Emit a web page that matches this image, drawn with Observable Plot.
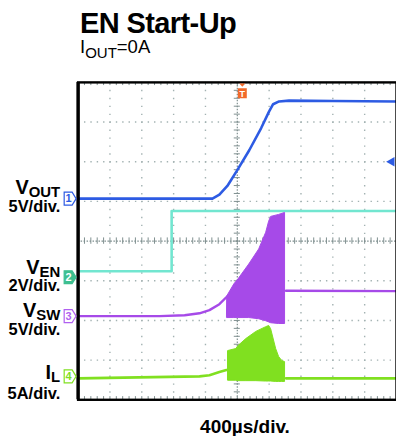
<!DOCTYPE html>
<html>
<head>
<meta charset="utf-8">
<script src="https://cdn.jsdelivr.net/npm/d3@7"></script>
<script src="https://cdn.jsdelivr.net/npm/@observablehq/plot@0.6"></script>
<style>
  html, body { margin: 0; padding: 0; background: #fff; }
  #wrap { position: relative; width: 396px; height: 436px; overflow: hidden; font-family: "Liberation Sans", Arial, sans-serif; color: #000; }
  #title { position: absolute; left: 80px; top: 8.5px; font-size: 29px; line-height: 29px; font-weight: bold; letter-spacing: -0.6px; white-space: nowrap; }
  #subtitle { position: absolute; left: 80px; top: 38px; font-size: 18.5px; line-height: 18px; white-space: nowrap; }
  #subtitle span { font-size: 15px; position: relative; top: 5px; }
  #chart { position: absolute; left: 0; top: 62px; }
  #caption { position: absolute; left: 145px; width: 200px; top: 416.5px; text-align: center; font-size: 19px; line-height: 19px; font-weight: bold; white-space: nowrap; }
</style>
</head>
<body>
<div id="wrap">
  <div id="title">EN Start-Up</div>
  <div id="subtitle">I<span>OUT</span>=0A</div>
  <div id="chart"></div>
  <div id="caption">400µs/div.</div>
</div>
<script>
// ---- Data (time in µs, 400 µs/div; level in screen divisions, 0..8) ----
const voutT = [0, 1688, 1775, 1875, 2000, 2150, 2300, 2400, 2450, 2525, 2650, 3200, 4000];
const voutV = [5.07, 5.07, 5.17, 5.39, 5.79, 6.29, 6.85, 7.27, 7.45, 7.52, 7.54, 7.53, 7.52];

const venT = [0, 1175, 1175, 4000];
const venV = [3.24, 3.24, 4.76, 4.76];

const vswT = [0, 1025, 1338, 1525, 1650, 1775, 1875];
const vswV = [2.11, 2.11, 2.13, 2.18, 2.26, 2.41, 2.61];
const vswBurstT  = [1875, 1963, 2013, 2150, 2275, 2363, 2400, 2425, 2525, 2600];
const vswBurstHi = [2.61, 2.91, 3.03, 3.41, 3.79, 4.21, 4.49, 4.61, 4.66, 4.71];
const vswBurstLo = [2.06, 2.06, 2.06, 2.06, 2.03, 1.98, 1.95, 1.93, 1.91, 1.91];
const vswPostT = [2612, 4000];
const vswPostV = [2.75, 2.74];

const ilT = [0, 1525, 1650, 1775, 1863, 1888];
const ilV = [0.54, 0.59, 0.62, 0.70, 0.75, 0.75];
const ilBurstT  = [1888, 1988, 2013, 2113, 2238, 2363, 2400, 2425, 2488, 2525, 2563, 2600];
const ilBurstHi = [1.23, 1.28, 1.35, 1.53, 1.71, 1.83, 1.86, 1.78, 1.28, 1.08, 0.98, 0.95];
const ilBurstLo = [0.48, 0.48, 0.47, 0.47, 0.47, 0.46, 0.46, 0.46, 0.45, 0.45, 0.45, 0.45];
const ilPostT = [2612, 4000];
const ilPostV = [0.54, 0.54];

const chanNums   = ["1", "2", "3", "4"];
const chanLevels = [5.07, 3.24, 2.11, 0.54];
const chanNames  = ["V_OUT", "V_EN", "V_SW", "I_L"];
const chanScales = ["5V/div.", "2V/div.", "5V/div.", "5A/div."];

const triggerT = [2063];
const levelMarkT = [3940];
const levelMarkV = [6];

// ---- Styles ----
const BLUE = "#2d5be3", CYAN = "#72e6d0", PURPLE = "#a64ae8", GREEN = "#80e020", ORANGE = "#f26a2a";
const chanStroke = [BLUE, "#3dbf90", "#b060f0", GREEN];
const chanFill = ["#ffffff", "#3dbf90", "#ffffff", "#ffffff"];
const chanText = [BLUE, "#ffffff", "#b060f0", GREEN];
const markerDy = [0, 6, 0, -2];
const nameDy = [-5, 3, 1, 1];
const scaleDy = [13, 20, 19, 21];

const zip = (t, v) => t.map((d, i) => ({t: d, v: v[i]}));
const zip3 = (t, lo, hi) => t.map((d, i) => ({t: d, lo: lo[i], hi: hi[i]}));
const chans = chanNums.map((n, i) => ({n, level: chanLevels[i], name: chanNames[i], scale: chanScales[i],
  stroke: chanStroke[i], fill: chanFill[i], text: chanText[i]}));

// grid positions (scale divisions)
const majorX = d3.range(1, 10).filter(i => i !== 5).map(i => i * 400);
const majorY = d3.range(1, 8).filter(i => i !== 4);
const minorX = d3.range(1, 50).map(i => i * 80);
const minorY = d3.range(1, 40).map(i => i * 0.2);

const flag = {draw(ctx) { ctx.moveTo(-6, -6.5); ctx.lineTo(2, -6.5); ctx.lineTo(6, 0); ctx.lineTo(2, 6.5); ctx.lineTo(-6, 6.5); ctx.closePath(); }};
const trig = {draw(ctx) { ctx.moveTo(-3, 1); ctx.lineTo(3, 1); ctx.lineTo(0, 4.5); ctx.closePath();
  ctx.moveTo(-4.5, 6); ctx.lineTo(4.5, 6); ctx.lineTo(4.5, 16); ctx.lineTo(-4.5, 16); ctx.closePath(); }};

const GRID = "#a3b2b2", CENTER = "#7f8f8f";

const labelMarks = chans.flatMap((c, i) => [
  Plot.dot([c], {x: 0, y: "level", dx: -8, dy: markerDy[i], symbol: flag, fill: "fill", stroke: "stroke", strokeWidth: 1.2}),
  Plot.text([c], {x: 0, y: "level", dx: -9.5, dy: markerDy[i], text: "n", fill: "text", fontSize: 11, fontWeight: "bold"}),
  Plot.text([c], {x: 0, y: "level", dx: -18, dy: nameDy[i], text: "name", textAnchor: "end", lineAnchor: "bottom", fontSize: 20, fontWeight: "bold", fill: "#000"}),
  Plot.text([c], {x: 0, y: "level", dx: -18, dy: scaleDy[i], text: "scale", textAnchor: "end", lineAnchor: "bottom", fontSize: 16.5, fontWeight: "bold", fill: "#000"})
]);

const plot = Plot.plot({
  width: 398, height: 347,
  marginLeft: 78, marginRight: 0, marginTop: 20, marginBottom: 8,
  x: {domain: [0, 4000], axis: null},
  y: {domain: [0, 8], axis: null},
  color: {type: "identity"},
  style: {fontFamily: "'Liberation Sans', Arial, sans-serif", overflow: "visible", background: "transparent"},
  marks: [
    // grid
    Plot.ruleX(majorX, {stroke: GRID, strokeWidth: 1.4, strokeDasharray: "1.4 6.575"}),
    Plot.ruleY(majorY, {stroke: GRID, strokeWidth: 1.4, strokeDasharray: "1.4 5"}),
    Plot.ruleX([2000], {stroke: CENTER, strokeWidth: 1.2, strokeDasharray: "1.5 1.5"}),
    Plot.ruleY([4], {stroke: CENTER, strokeWidth: 1.2, strokeDasharray: "1.5 1.5"}),
    Plot.ruleY(minorY, {y: d => d, x1: 1962, x2: 2038, stroke: CENTER, strokeWidth: 1}),
    Plot.ruleX(minorX, {x: d => d, y1: 3.92, y2: 4.08, stroke: CENTER, strokeWidth: 1}),
    Plot.ruleX(minorX, {x: d => d, y1: 0, y2: 0.08, stroke: CENTER, strokeWidth: 1}),
    Plot.ruleX(minorX, {x: d => d, y1: 7.92, y2: 8, stroke: CENTER, strokeWidth: 1}),
    // traces
    Plot.line(zip(voutT, voutV), {x: "t", y: "v", stroke: BLUE, strokeWidth: 2.6}),
    Plot.line(zip(venT, venV), {x: "t", y: "v", stroke: CYAN, strokeWidth: 2.6}),
    Plot.line(zip(vswT, vswV), {x: "t", y: "v", stroke: PURPLE, strokeWidth: 2.4}),
    Plot.areaY(zip3(vswBurstT, vswBurstLo, vswBurstHi), {x: "t", y1: "lo", y2: "hi", fill: PURPLE, stroke: PURPLE, strokeWidth: 1}),
    Plot.line(zip(vswPostT, vswPostV), {x: "t", y: "v", stroke: PURPLE, strokeWidth: 2.4}),
    Plot.line(zip(ilT, ilV), {x: "t", y: "v", stroke: GREEN, strokeWidth: 2.6}),
    Plot.areaY(zip3(ilBurstT, ilBurstLo, ilBurstHi), {x: "t", y1: "lo", y2: "hi", fill: GREEN, stroke: GREEN, strokeWidth: 1}),
    Plot.line(zip(ilPostT, ilPostV), {x: "t", y: "v", stroke: GREEN, strokeWidth: 2.6}),
    // frame
    Plot.frame({stroke: "#000", strokeWidth: 2.4}),
    Plot.ruleX([0], {stroke: "#000", strokeWidth: 3.4}),
    // trigger & level markers
    Plot.dot(triggerT, {x: d => d, y: 8, symbol: trig, fill: ORANGE, stroke: "none"}),
    Plot.text(triggerT, {x: d => d, y: 8, dy: 11.5, text: () => "T", fill: "#fff", fontSize: 9, fontWeight: "bold"}),
    Plot.dot(levelMarkT, {x: d => d, y: (d, i) => levelMarkV[i], symbol: "triangle", rotate: -90, r: 3.6, fill: BLUE, stroke: "none"}),
    // channel markers and labels
    ...labelMarks
  ]
});

// subscripts as tspans
d3.select(plot).selectAll("text").each(function () {
  const s = this.textContent;
  if (!s.includes("_")) return;
  const [a, b] = s.split("_");
  const sel = d3.select(this);
  sel.text(null);
  sel.append("tspan").text(a);
  sel.append("tspan").attr("font-size", 15).attr("dy", 3).text(b);
});

document.getElementById("chart").appendChild(plot);
</script>
</body>
</html>
